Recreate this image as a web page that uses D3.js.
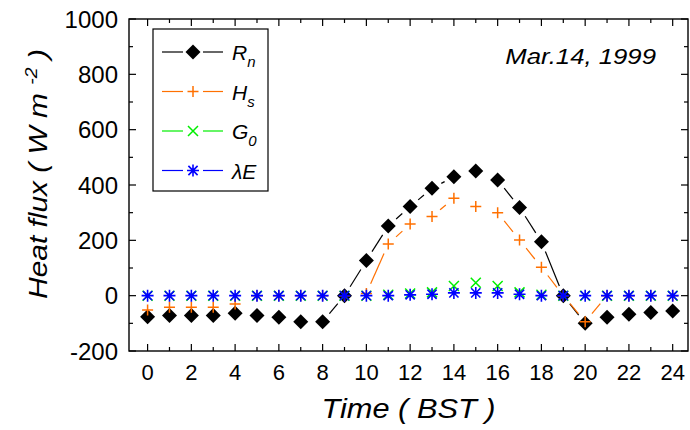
<!DOCTYPE html>
<html>
<head>
<meta charset="utf-8">
<script src="https://cdn.jsdelivr.net/npm/d3@7"></script>
<style>
  body { margin: 0; background: #fff; }
  svg { display: block; font-family: "Liberation Sans", Arial, sans-serif; }
</style>
</head>
<body>
<div id="chart"></div>
<script>
// heure (BST)
const hours = d3.range(0, 25);
// flux en W m-2
const rn = [-76, -72, -72, -72, -64, -72, -78, -94, -94, 0, 127, 252, 322, 388, 430, 451, 418, 319, 195, 0, -100, -78, -67, -61, -55];
const hs = [-52, -42, -42, -42, -30, 0, 0, 0, 0, 0, 8, 187, 259, 286, 352, 322, 300, 201, 103, 0, -94, 0, 0, 0, 0];
const g0 = [0, 0, 0, 0, 0, 0, 0, 0, 0, 0, 0, 3, 8, 12, 35, 47, 35, 12, 3, 0, 0, 0, 0, 0, 0];
const le = [0, 0, 0, 0, 0, 0, 0, 0, 0, 0, 0, 0, 3, 5, 10, 10, 10, 5, 0, 0, 0, 0, 0, 0, 0];
const xTicks = d3.range(0, 25, 2);
const yTicks = d3.range(-200, 1001, 200);

const w = 690, h = 430;
let margin = { top: 19, right: 2, bottom: 79, left: 129 };
let x0 = margin.left, x1 = w - margin.right;
let y0 = margin.top, y1 = h - margin.bottom;

const svg = d3.select("#chart").append("svg")
  .attr("width", w).attr("height", h);

let x = d3.scaleLinear().domain([-0.85, 24.7]).range([x0, x1]);
let y = d3.scaleLinear().domain([-200, 1000]).range([y1, y0]);

// cadre
svg.append("rect")
  .attr("x", x0).attr("y", y0)
  .attr("width", x1 - x0).attr("height", y1 - y0)
  .attr("fill", "none").attr("stroke", "#000").attr("stroke-width", 1.4);

// graduations vers l'intérieur, sur les 4 côtés
const major = 7, minor = 4;
let tk = svg.append("g").attr("stroke", "#000").attr("stroke-width", 1.2);
d3.range(0, 25, 1).forEach(v => {
  let len = v % 2 == 0 ? major : minor;
  tk.append("line").attr("x1", x(v)).attr("x2", x(v)).attr("y1", y1).attr("y2", y1 - len);
  tk.append("line").attr("x1", x(v)).attr("x2", x(v)).attr("y1", y0).attr("y2", y0 + len);
});
d3.range(-200, 1001, 100).forEach(v => {
  let len = v % 200 == 0 ? major : minor;
  tk.append("line").attr("x1", x0).attr("x2", x0 + len).attr("y1", y(v)).attr("y2", y(v));
  tk.append("line").attr("x1", x1).attr("x2", x1 - len).attr("y1", y(v)).attr("y2", y(v));
});

svg.append("g").selectAll("text").data(xTicks).enter().append("text")
  .attr("x", d => x(d)).attr("y", y1 + 29)
  .attr("text-anchor", "middle").style("font-size", "22px")
  .text(d => d);

svg.append("g").selectAll("text").data(yTicks).enter().append("text")
  .attr("x", x0 - 11).attr("y", d => y(d) + 8.5)
  .attr("text-anchor", "end").style("font-size", "24px")
  .text(d => d);

// titres des axes (texte un peu élargi comme sur l'original)
svg.append("text")
  .attr("transform", `translate(${(x0 + x1) / 2},418) scale(1.14,1)`)
  .attr("text-anchor", "middle")
  .style("font-size", "27px").style("font-style", "italic")
  .text("Time ( BST )");

let yt = svg.append("text")
  .attr("transform", "translate(47,174) rotate(-90) scale(1.15,1)")
  .attr("text-anchor", "middle")
  .style("font-size", "26px").style("font-style", "italic");
yt.append("tspan").text("Heat flux ( W m ");
yt.append("tspan").attr("dy", -10).style("font-size", "17px").text("-2");
yt.append("tspan").attr("dy", 10).text(" )");

svg.append("text")
  .attr("transform", "translate(656,64) scale(1.17,1)")
  .attr("text-anchor", "end")
  .style("font-size", "22px").style("font-style", "italic")
  .text("Mar.14, 1999");

// symboles
function drawMarker(g, kind, cx, cy, color) {
  if (kind == "diamond") {
    g.append("path").attr("d", `M${cx},${cy - 7.5}L${cx + 7.5},${cy}L${cx},${cy + 7.5}L${cx - 7.5},${cy}Z`)
      .attr("fill", color);
  } else if (kind == "plus") {
    let r = 5.5;
    g.append("path").attr("d", `M${cx - r},${cy}H${cx + r}M${cx},${cy - r}V${cy + r}`)
      .attr("stroke", color).attr("stroke-width", 1.5).attr("fill", "none");
  } else if (kind == "cross") {
    let r = 5;
    g.append("path").attr("d", `M${cx - r},${cy - r}L${cx + r},${cy + r}M${cx - r},${cy + r}L${cx + r},${cy - r}`)
      .attr("stroke", color).attr("stroke-width", 1.5).attr("fill", "none");
  } else {
    let r = 6, d = 4.6;
    g.append("path").attr("d", `M${cx - r},${cy}H${cx + r}M${cx},${cy - r}V${cy + r}M${cx - d},${cy - d}L${cx + d},${cy + d}M${cx - d},${cy + d}L${cx + d},${cy - d}`)
      .attr("stroke", color).attr("stroke-width", 1.6).attr("fill", "none");
  }
}

// ligne avec espace autour des symboles (style Origin)
function gapLine(g, pts, color, gap) {
  for (let i = 0; i < pts.length - 1; i++) {
    let [ax, ay] = pts[i], [bx, by] = pts[i + 1];
    let len = Math.hypot(bx - ax, by - ay);
    if (len - 2 * gap < 3.5) continue;
    let ux = (bx - ax) / len, uy = (by - ay) / len;
    g.append("line")
      .attr("x1", ax + ux * gap).attr("y1", ay + uy * gap)
      .attr("x2", bx - ux * gap).attr("y2", by - uy * gap)
      .attr("stroke", color).attr("stroke-width", 1.2);
  }
}

const series = [
  { name: "R", sub: "n", vals: rn, color: "#000000", kind: "diamond" },
  { name: "H", sub: "s", vals: hs, color: "#ff7000", kind: "plus" },
  { name: "G", sub: "0", vals: g0, color: "#00ee00", kind: "cross" },
  { name: "\u03bbE", sub: "", vals: le, color: "#0000ff", kind: "star" }
];

series.forEach(s => {
  let g = svg.append("g");
  let pts = hours.map((hr, i) => [x(hr), y(s.vals[i])]);
  gapLine(g, pts, s.color, 10.5);
  pts.forEach(p => drawMarker(g, s.kind, p[0], p[1], s.color));
});

// légende
svg.append("rect")
  .attr("x", 153).attr("y", 29).attr("width", 115).attr("height", 162)
  .attr("fill", "#fff").attr("stroke", "#000").attr("stroke-width", 1.2);

series.forEach((s, i) => {
  let ly = 52 + i * 39.5;
  let g = svg.append("g");
  g.append("line").attr("x1", 162).attr("x2", 183).attr("y1", ly).attr("y2", ly)
    .attr("stroke", s.color).attr("stroke-width", 1.2);
  g.append("line").attr("x1", 203).attr("x2", 223).attr("y1", ly).attr("y2", ly)
    .attr("stroke", s.color).attr("stroke-width", 1.2);
  drawMarker(g, s.kind, 193, ly, s.color);
  let t = g.append("text").attr("x", 232).attr("y", ly + 8)
    .style("font-size", "21px").style("font-style", "italic");
  t.append("tspan").text(s.name);
  if (s.sub) t.append("tspan").attr("dy", 7).style("font-size", "15px").text(s.sub);
});
</script>
</body>
</html>
